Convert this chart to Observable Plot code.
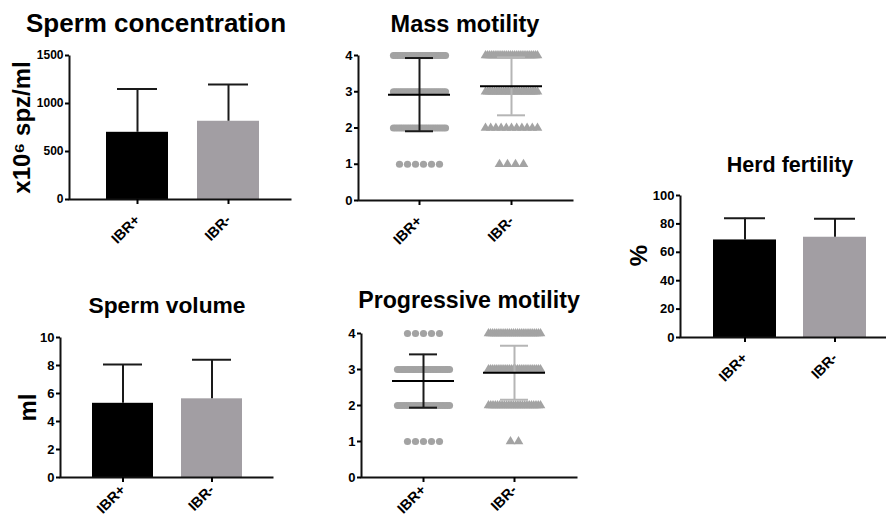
<!DOCTYPE html>
<html>
<head>
<meta charset="utf-8">
<script src="https://cdn.jsdelivr.net/npm/d3@7"></script>
<script src="https://cdn.jsdelivr.net/npm/@observablehq/plot@0.6"></script>
<style>
  html, body { margin: 0; padding: 0; background: #fff; }
  #root { position: relative; width: 886px; height: 519px; overflow: hidden; background: #fff;
          font-family: "Liberation Sans", Arial, sans-serif; }
  .title { position: absolute; font-weight: bold; line-height: 1; white-space: nowrap;
           transform: translateX(-50%); color: #000; }
  svg { position: absolute; overflow: visible; }
</style>
</head>
<body>
<div id="root"></div>
<script>
// ---------- data ----------
const groups = ["IBR+", "IBR-"];

const concMean = [700, 815];
const concSD = [450, 382];

const volMean = [5.3, 5.62];
const volSD = [2.77, 2.79];

const fertMean = [68.7, 70.6];
const fertSD = [15.3, 13.0];

const scores = [1, 2, 3, 4];
const massCountsPos = [6, 24, 26, 30];
const massCountsNeg = [4, 11, 24, 28];
const massMean = [2.92, 3.15];
const massSD = [1.01, 0.80];

const progCountsPos = [5, 24, 28, 5];
const progCountsNeg = [2, 24, 28, 26];
const progMean = [2.68, 2.91];
const progSD = [0.74, 0.75];

// ---------- helpers ----------
const root = document.getElementById("root");
const FONT = "'Liberation Sans', Arial, sans-serif";

function place(el, left, top) {
  el.style.left = left + "px";
  el.style.top = top + "px";
  root.appendChild(el);
}
function title(text, cx, top, size) {
  const d = document.createElement("div");
  d.className = "title";
  d.textContent = text;
  d.style.fontSize = size + "px";
  place(d, cx, top);
}
// left + bottom axis lines drawn from the frame (dash pattern hides top and right)
function axisFrame(o) {
  const w = o.width - o.ml - o.mr, h = o.height - o.mt - o.mb;
  return Plot.frame({stroke: "#111", strokeWidth: 2, strokeDasharray: `0 ${w + h} ${w + h}`});
}
const plotStyle = {fontFamily: FONT, fontSize: "12.5px", fontWeight: "bold", color: "#000",
  background: "transparent", overflow: "visible"};

function barPanel(o) {
  const data = groups.map((g, i) => ({group: g, mean: o.means[i], sd: o.sds[i]}));
  const svg = Plot.plot({
    width: o.width, height: o.height,
    marginLeft: o.ml, marginRight: o.mr, marginTop: o.mt, marginBottom: o.mb,
    style: plotStyle,
    x: {domain: groups, range: o.xRange, paddingInner: o.pi, paddingOuter: 0},
    y: {domain: o.yDomain},
    color: {domain: groups, range: ["#000000", "#a29ea3"]},
    marks: [
      Plot.barY(data, {x: "group", y: "mean", fill: "group"}),
      Plot.ruleX(data, {x: "group", y1: "mean", y2: d => d.mean + d.sd, stroke: "#1a1a1a", strokeWidth: 2}),
      Plot.tickY(data, {x: "group", y: d => d.mean + d.sd, insetLeft: o.capInset, insetRight: o.capInset, stroke: "#1a1a1a", strokeWidth: 2}),
      axisFrame(o),
      Plot.axisY({ticks: o.yTicks, tickFormat: d => String(d), tickSize: 4, tickPadding: 2, label: null, strokeWidth: 2, fontSize: o.tickFont}),
      Plot.axisX({tickSize: 5, tickRotate: -45, tickPadding: o.xPad, label: null, strokeWidth: 2, fontSize: 14.5}),
      Plot.text([o.yLabel], {text: d => d, frameAnchor: "left", textAnchor: "middle", rotate: -90, dx: o.labelDx, dy: o.labelDy || 0,
        fontSize: o.labelFont, fontWeight: "bold", fill: "#000"})
    ]
  });
  place(svg, o.left, o.top);
}

function dotPanel(o) {
  const x0 = o.xRange[0], x1 = o.xRange[1];
  const k = 1 / (x1 - x0); // pixels -> data units
  const points = [];
  groups.forEach((g, gi) => {
    o.counts[gi].forEach((n, si) => {
      const sp = n > 1 ? Math.min(8, 52 / (n - 1)) : 0;
      for (let j = 0; j < n; j++) {
        points.push({group: g, score: scores[si], x: gi + 1 + (j - (n - 1) / 2) * sp * k});
      }
    });
  });
  const stats = groups.map((g, i) => ({group: g, pos: i + 1, mean: o.means[i], sd: o.sds[i]}));
  const capH = 14 * k, meanH = 31 * k;
  const svg = Plot.plot({
    width: o.width, height: o.height,
    marginLeft: o.ml, marginRight: o.mr, marginTop: o.mt, marginBottom: o.mb,
    style: plotStyle,
    x: {domain: [1, 2], range: o.xRange},
    y: {domain: [0, 4]},
    symbol: {domain: groups, range: ["circle", "triangle"]},
    color: {domain: groups, range: ["#1a1a1a", "#b5b5b5"]},
    marks: [
      Plot.dot(points, {x: "x", y: "score", symbol: "group", r: 3.6, fill: "#a3a3a3", stroke: "none"}),
      Plot.ruleX(stats, {x: "pos", y1: d => d.mean - d.sd, y2: d => d.mean + d.sd, stroke: "group", strokeWidth: 2}),
      Plot.ruleY(stats, {y: d => d.mean - d.sd, x1: d => d.pos - capH, x2: d => d.pos + capH, stroke: "group", strokeWidth: 2}),
      Plot.ruleY(stats, {y: d => d.mean + d.sd, x1: d => d.pos - capH, x2: d => d.pos + capH, stroke: "group", strokeWidth: 2}),
      Plot.ruleY(stats, {y: "mean", x1: d => d.pos - meanH, x2: d => d.pos + meanH, stroke: "#000", strokeWidth: 2}),
      axisFrame(o),
      Plot.axisY({ticks: [0, 1, 2, 3, 4], tickFormat: d => String(d), tickSize: 4, tickPadding: 2, label: null, strokeWidth: 2, fontSize: 13}),
      Plot.axisX({ticks: [1, 2], tickFormat: v => groups[v - 1], tickSize: 5, tickRotate: -45, tickPadding: o.xPad,
        label: null, strokeWidth: 2, fontSize: 14.5})
    ]
  });
  place(svg, o.left, o.top);
}

// ---------- titles ----------
title("Sperm concentration", 156, 10, 26);
title("Mass motility", 465, 13, 23.5);
title("Sperm volume", 167, 294, 22.8);
title("Progressive motility", 469, 289, 23.2);
title("Herd fertility", 790, 155, 21.5);

// ---------- panels ----------
barPanel({left: 0, top: 45, width: 300, height: 200, ml: 69, mr: 9, mt: 10, mb: 46, xPad: 13,
  xRange: [105, 260], pi: 0.315, capInset: 11,
  means: concMean, sds: concSD, yDomain: [0, 1500], yTicks: [0, 500, 1000, 1500],
  yLabel: "x10\u2076 spz/ml", labelDx: -47, labelFont: 24, tickFont: 12});

dotPanel({left: 300, top: 45, width: 290, height: 200, ml: 58, mr: 17, mt: 10, mb: 45, xPad: 13,
  xRange: [119, 211], counts: [massCountsPos, massCountsNeg], means: massMean, sds: massSD});

barPanel({left: 0, top: 325, width: 300, height: 194, ml: 60, mr: 27, mt: 12, mb: 42, xPad: 5,
  xRange: [91, 243], pi: 0.311, capInset: 11,
  means: volMean, sds: volSD, yDomain: [0, 10], yTicks: [0, 2, 4, 6, 8, 10],
  yLabel: "ml", labelDx: -32, labelFont: 24, tickFont: 13});

dotPanel({left: 300, top: 323, width: 290, height: 196, ml: 61, mr: 13, mt: 10, mb: 42, xPad: 5,
  xRange: [123, 214], counts: [progCountsPos, progCountsNeg], means: progMean, sds: progSD});

barPanel({left: 596, top: 185, width: 290, height: 200, ml: 84, mr: 0, mt: 10, mb: 48, xPad: 13,
  xRange: [117, 270], pi: 0.3, capInset: 11,
  means: fertMean, sds: fertSD, yDomain: [0, 100], yTicks: [0, 20, 40, 60, 80, 100],
  yLabel: "%", labelDx: -41, labelDy: -11, labelFont: 24, tickFont: 13});
</script>
</body>
</html>
